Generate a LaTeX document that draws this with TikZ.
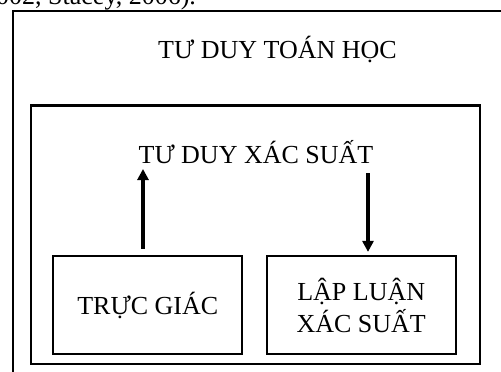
\documentclass[tikz,border=0pt]{standalone}
\usepackage{fontspec}
\setmainfont{Liberation Serif}
\usetikzlibrary{arrows.meta}
\begin{document}
\begin{tikzpicture}[x=1pt,y=-1pt,
  frame/.style={draw=black,line width=2.2pt},
  box/.style={frame,minimum width=189pt,minimum height=98pt,align=center,inner sep=0pt,
    font=\fontsize{26}{32}\selectfont},
  label/.style={font=\fontsize{26}{32}\selectfont,inner sep=0pt,anchor=base},
  bigarrow/.style={line width=4pt,-{Triangle[length=11pt,width=11pt]}}]
\useasboundingbox (0,0) rectangle (501,372);
\clip (0,0) rectangle (501,372);
% running text above the figure
\node[label,anchor=base west] (cite) at (-4,5) {002, Stacey, 2006).};
% outer frame: mathematical thinking
\draw[frame] (13,380) -- (13,11) -- (510,11);
\node[label] (math) at (277.5,58) {TƯ DUY TOÁN HỌC};
% inner frame: probabilistic thinking
\node[frame,minimum width=449pt,minimum height=258.5pt,inner sep=0pt] (prob) at (255.5,234.75) {};
\node[label] (probtext) at (256,163) {TƯ DUY XÁC SUẤT};
% the two components
\node[box] (intuition) at (147.75,305) {TRỰC GIÁC};
\node[box] (reasoning) at (361.25,305) {LẬP LUẬN\\XÁC SUẤT};
% arrows between components and probabilistic thinking
\coordinate (upstart) at ([yshift=6pt]intuition.north -| 143,0);
\coordinate (upend) at (143,169);
\coordinate (downstart) at (368,173);
\coordinate (downend) at ([yshift=3pt]reasoning.north -| 368,0);
\draw[bigarrow] (upstart) -- (upend);
\draw[bigarrow] (downstart) -- (downend);
\end{tikzpicture}
\end{document}
